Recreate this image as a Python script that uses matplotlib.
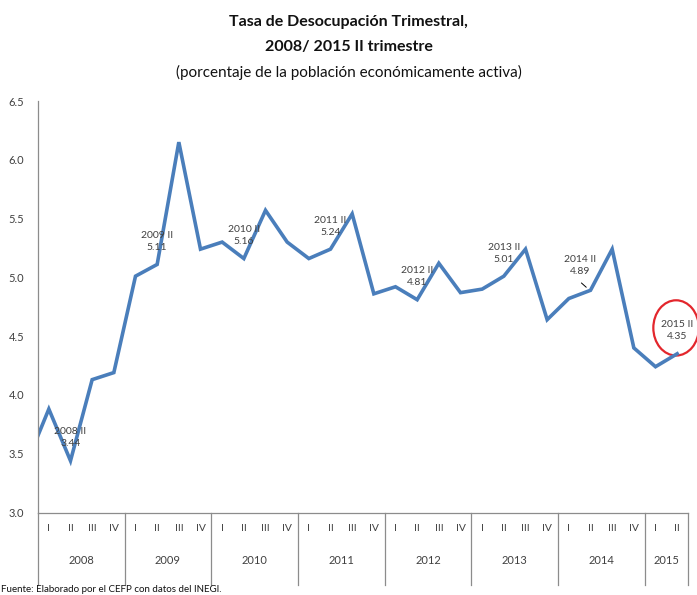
import matplotlib
matplotlib.use("Agg")
import matplotlib.pyplot as plt
import matplotlib.transforms as mtransforms
from matplotlib.patches import Ellipse
import numpy as np

plt.rcParams['font.family'] = ['Lato', 'DejaVu Sans']

# data
years = ["2008", "2009", "2010", "2011", "2012", "2013", "2014", "2015"]
quarters = ["I", "II", "III", "IV"]
n_quarters = [4, 4, 4, 4, 4, 4, 4, 2]

# 2007 IV value, only its segment into 2008 I is visible at the left edge
lead_value = 3.43
rates = [3.88, 3.44, 4.13, 4.19,
         5.01, 5.11, 6.15, 5.24,
         5.30, 5.16, 5.57, 5.30,
         5.16, 5.24, 5.54, 4.86,
         4.92, 4.81, 5.12, 4.87,
         4.90, 5.01, 5.24, 4.64,
         4.82, 4.89, 5.24, 4.40,
         4.24, 4.35]
label_idx = [1, 5, 9, 13, 17, 21, 25, 29]

line_color = "#4A7EBB"
txt_color = "#404040"

fig = plt.figure(figsize=(6.97, 5.95), dpi=100)
ax = fig.add_axes([38/697, 1-512.5/595, 650/697, 411.5/595])

x = np.arange(len(rates))
ax.plot(np.concatenate([[-1], x]), [lead_value] + rates, color=line_color, lw=2.6,
        solid_joinstyle="miter")
ax.set_xlim(-0.5, len(rates) - 0.5)
ax.set_ylim(3.0, 6.5)
ax.set_yticks(np.arange(3.0, 6.51, 0.5))
ax.set_yticklabels(["%.1f" % v for v in np.arange(3.0, 6.51, 0.5)])
ax.tick_params(axis="y", length=0, pad=10, labelsize=8, labelcolor=txt_color)
ax.set_xticks([])
for s in ["top", "right"]:
    ax.spines[s].set_visible(False)
for s in ["left", "bottom"]:
    ax.spines[s].set_color("#8C8C8C")
    ax.spines[s].set_linewidth(0.9)

# data labels
for i in label_idx:
    yr = years[i // 4]
    q = quarters[i % 4]
    txt = "%s %s\n%.2f" % (yr, q, rates[i])
    if i == 25:
        ax.annotate(txt, xy=(i, rates[i]), xytext=(-10, 25), textcoords="offset pixels",
                    ha="center", va="center", fontsize=7.5, color=txt_color, linespacing=1.45)
        ax.annotate("", xy=(i - 0.1, rates[i] + 0.01), xytext=(-9, 8), textcoords="offset pixels",
                    arrowprops=dict(arrowstyle="-", color="black", lw=0.7))
    else:
        ax.annotate(txt, xy=(i, rates[i]), xytext=(0, 23), textcoords="offset pixels",
                    ha="center", va="center", fontsize=7.5, color=txt_color, linespacing=1.45)

# red circle around last value
last = len(rates) - 1
ax.add_patch(Ellipse((last - 0.05, rates[last] + 0.22), 2.1, 0.47, fill=False,
                     edgecolor="#E3262C", lw=1.6, clip_on=False))

# two-level category axis
trans = mtransforms.blended_transform_factory(ax.transData, ax.transAxes)
for i in x:
    ax.text(i, -0.038, quarters[i % 4], transform=trans, ha="center", va="center",
            fontsize=7.5, color=txt_color)
start = 0
bounds = [-0.5]
for yr, n in zip(years, n_quarters):
    ax.text(start + (n - 1) / 2.0, -0.117, yr, transform=trans, ha="center", va="center",
            fontsize=8, color=txt_color)
    start += n
    bounds.append(start - 0.5)
for b in bounds:
    ax.plot([b, b], [0, -0.177], transform=trans, color="#8C8C8C", lw=0.9, clip_on=False)

# titles
fig.text(0.5, 1-22/595, "Tasa de Desocupación Trimestral,", ha="center", va="center",
         fontsize=11.5, fontweight="bold", color="#111111")
fig.text(0.5, 1-47/595, "2008/ 2015 II trimestre", ha="center", va="center",
         fontsize=11.5, fontweight="bold", color="#111111")
fig.text(0.5, 1-72/595, "(porcentaje de la población económicamente activa)", ha="center",
         va="center", fontsize=11, color="#111111")
fig.text(1/697, 1-589/595, "Fuente: Elaborado por el CEFP con datos del INEGI.", ha="left",
         va="center", fontsize=7, color="#111111")

fig.savefig("out.png", dpi=100)
